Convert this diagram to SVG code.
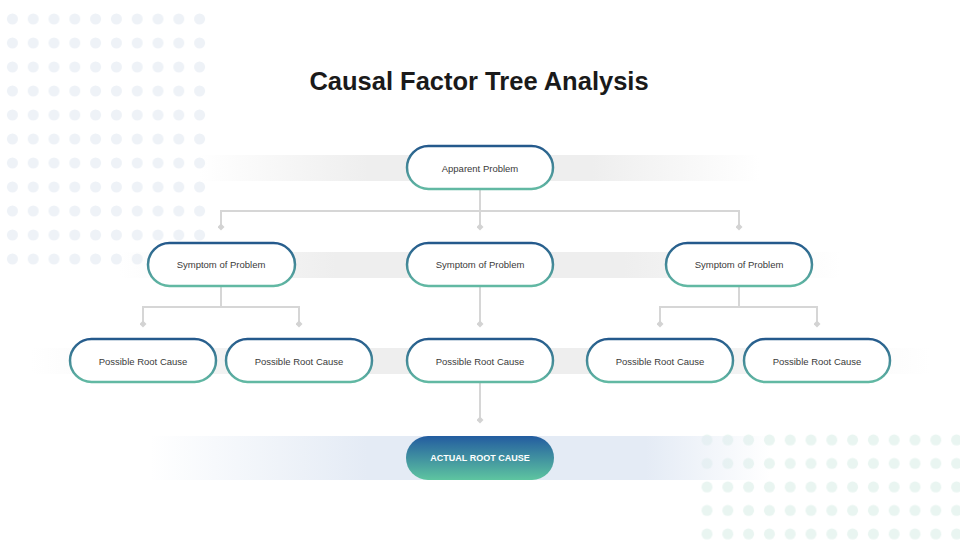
<svg xmlns="http://www.w3.org/2000/svg" width="960" height="540" viewBox="0 0 960 540">
<defs>
<linearGradient id="strokeG" x1="0" y1="0" x2="0" y2="1">
<stop offset="0" stop-color="#24598c"/>
<stop offset="1" stop-color="#62b9a3"/>
</linearGradient>
<linearGradient id="fillG" x1="0" y1="0" x2="0" y2="1">
<stop offset="0" stop-color="#235ca0"/>
<stop offset="1" stop-color="#5ec5a0"/>
</linearGradient>
<linearGradient id="bandGray" x1="0" y1="0" x2="1" y2="0">
<stop offset="0" stop-color="#eeeeee" stop-opacity="0"/>
<stop offset="0.3" stop-color="#eeeeee" stop-opacity="1"/>
<stop offset="0.7" stop-color="#eeeeee" stop-opacity="1"/>
<stop offset="1" stop-color="#eeeeee" stop-opacity="0"/>
</linearGradient>
<linearGradient id="bandBlue" x1="0" y1="0" x2="1" y2="0">
<stop offset="0" stop-color="#e4ebf5" stop-opacity="0"/>
<stop offset="0.35" stop-color="#e4ebf5" stop-opacity="1"/>
<stop offset="0.8" stop-color="#e4ebf5" stop-opacity="1"/>
<stop offset="1" stop-color="#e4ebf5" stop-opacity="0"/>
</linearGradient>
<pattern id="dotsBlue" x="2" y="9" width="20.8" height="24" patternUnits="userSpaceOnUse">
<circle cx="10.4" cy="10" r="5.5" fill="#eef2f7"/>
</pattern>
<pattern id="dotsMint" x="696.6" y="430" width="20.8" height="23.5" patternUnits="userSpaceOnUse">
<circle cx="10.4" cy="10" r="5.5" fill="#e9f5f1"/>
</pattern>
<marker id="dia" viewBox="0 0 10 10" refX="5" refY="5" markerWidth="7" markerHeight="7" markerUnits="userSpaceOnUse">
<path d="M5 0 L10 5 L5 10 L0 5 Z" fill="#d3d3d3"/>
</marker>
<style>
.node rect{fill:#ffffff;stroke:url(#strokeG);stroke-width:2.5}
.node text{font-family:"Liberation Sans",Arial,sans-serif;font-size:9.5px;fill:#3a3a3a;text-anchor:middle}
.title{font-family:"Liberation Sans",Arial,sans-serif;font-size:25.5px;font-weight:bold;fill:#1a1a1a;text-anchor:middle}
.conn path{fill:none;stroke:#d6d6d6;stroke-width:2}
</style>
</defs>
<rect width="960" height="540" fill="#ffffff"/>
<g id="background">
<rect x="2" y="9" width="208" height="262" fill="url(#dotsBlue)"/>
<rect x="696.6" y="430" width="264" height="110" fill="url(#dotsMint)"/>
<rect x="200" y="155" width="560" height="26" fill="url(#bandGray)"/>
<rect x="120" y="252" width="720" height="26" fill="url(#bandGray)"/>
<rect x="30" y="348" width="900" height="26" fill="url(#bandGray)"/>
<rect x="150" y="436" width="620" height="44" fill="url(#bandBlue)"/>
</g>
<text class="title" x="479" y="90">Causal Factor Tree Analysis</text>
<g id="connectors" class="conn">
<path d="M480 190 V211"/>
<path d="M221 227 V211 H739 V227" marker-start="url(#dia)" marker-end="url(#dia)"/>
<path d="M480 211 V227" marker-end="url(#dia)"/>
<path d="M221 287 V307"/>
<path d="M143 324 V307 H299 V324" marker-start="url(#dia)" marker-end="url(#dia)"/>
<path d="M480 287 V324" marker-end="url(#dia)"/>
<path d="M739 287 V307"/>
<path d="M660 324 V307 H817 V324" marker-start="url(#dia)" marker-end="url(#dia)"/>
<path d="M480 383 V420" marker-end="url(#dia)"/>
</g>
<g id="apparent-problem" class="node">
<rect x="407" y="146" width="146" height="43" rx="21.5"/>
<text x="480" y="171.5">Apparent Problem</text>
</g>
<g id="symptom-1" class="node">
<rect x="148" y="243" width="147" height="43" rx="21.5"/>
<text x="221" y="268">Symptom of Problem</text>
</g>
<g id="symptom-2" class="node">
<rect x="407" y="243" width="146" height="43" rx="21.5"/>
<text x="480" y="268">Symptom of Problem</text>
</g>
<g id="symptom-3" class="node">
<rect x="666" y="243" width="146" height="43" rx="21.5"/>
<text x="739" y="268">Symptom of Problem</text>
</g>
<g id="cause-1" class="node">
<rect x="70" y="339" width="146" height="43" rx="21.5"/>
<text x="143" y="364.5">Possible Root Cause</text>
</g>
<g id="cause-2" class="node">
<rect x="226" y="339" width="146" height="43" rx="21.5"/>
<text x="299" y="364.5">Possible Root Cause</text>
</g>
<g id="cause-3" class="node">
<rect x="407" y="339" width="146" height="43" rx="21.5"/>
<text x="480" y="364.5">Possible Root Cause</text>
</g>
<g id="cause-4" class="node">
<rect x="587" y="339" width="146" height="43" rx="21.5"/>
<text x="660" y="364.5">Possible Root Cause</text>
</g>
<g id="cause-5" class="node">
<rect x="744" y="339" width="146" height="43" rx="21.5"/>
<text x="817" y="364.5">Possible Root Cause</text>
</g>
<g id="actual-root-cause">
<rect x="406" y="436" width="148" height="44" rx="22" fill="url(#fillG)"/>
<text x="480" y="460.5" font-family="'Liberation Sans',Arial,sans-serif" font-size="9px" font-weight="bold" fill="#ffffff" text-anchor="middle">ACTUAL ROOT CAUSE</text>
</g>
</svg>
